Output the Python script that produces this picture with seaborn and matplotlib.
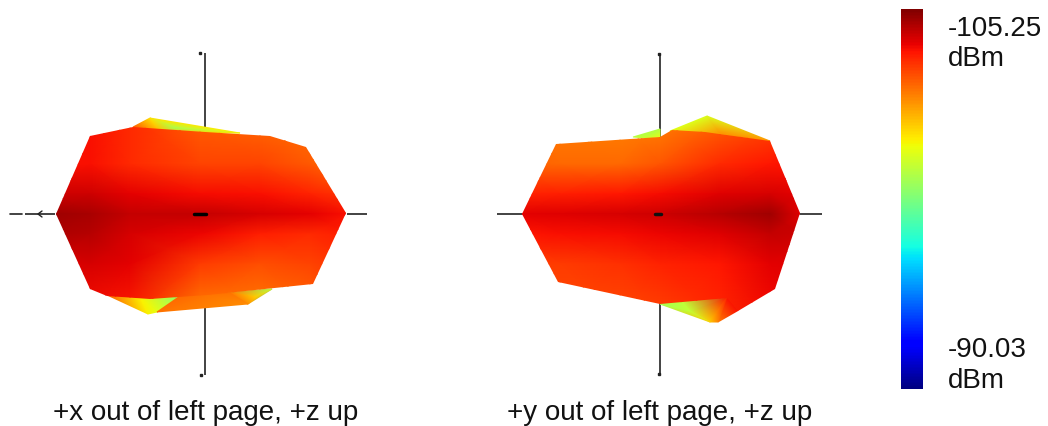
import numpy as np
import matplotlib
matplotlib.use("Agg")
import matplotlib.pyplot as plt
from matplotlib.patches import Polygon
import seaborn as sns

# Escala de color (dBm)
scale_top = -105.25
scale_bottom = -90.03
scale_steps = np.linspace(scale_top, scale_bottom, 256)
caption_left = "+x out of left page, +z up"
caption_right = "+y out of left page, +z up"

# Vista izquierda: valores
left_x = [55, 90, 130, 200, 260, 310, 347]
left_y = [118, 165, 195, 215, 235, 265, 316]
left_vals = [
    [-103.6, -103.6, -103.2, -102.3, -102.1, -102.0, -101.4],
    [-103.6, -103.6, -103.2, -102.8, -102.8, -102.4, -101.9],
    [-104.2, -104.2, -103.9, -103.7, -103.6, -103.3, -103.0],
    [-104.8, -104.7, -104.3, -104.3, -104.1, -103.9, -103.6],
    [-104.6, -104.5, -104.1, -103.8, -103.4, -103.2, -103.4],
    [-104.0, -104.1, -103.9, -102.9, -102.6, -102.8, -103.1],
    [-103.6, -103.6, -103.4, -101.8, -101.8, -102.1, -102.7],
]
left_outline = [(56, 215), (90, 137), (133, 128), (205, 133), (270, 137), (306, 148),
                (346, 214), (313, 285), (207, 296), (150, 300), (107, 297), (90, 290)]

# Vista derecha
right_x = [522, 560, 620, 660, 720, 770, 800]
right_y = [118, 165, 195, 215, 235, 265, 325]
right_vals = [
    [-101.9, -101.8, -101.7, -101.7, -102.2, -102.6, -103.0],
    [-102.3, -102.2, -102.2, -102.5, -103.2, -103.5, -103.6],
    [-103.3, -103.4, -103.5, -103.7, -104.0, -104.1, -103.9],
    [-103.9, -104.0, -104.1, -104.2, -104.5, -104.8, -104.0],
    [-103.5, -103.6, -103.7, -103.8, -104.0, -104.3, -104.2],
    [-102.9, -102.9, -103.1, -103.3, -103.5, -103.9, -104.0],
    [-102.5, -102.6, -102.6, -102.7, -103.2, -103.7, -103.8],
]
right_outline = [(522, 215), (556, 145), (660, 138), (672, 131), (705, 133), (770, 142),
                 (800, 214), (775, 290), (738, 311.5), (727, 299), (660, 305), (558, 283)]

# Lobulos traseros: vertices y valor en cada vertice
left_back_pts = [
    [(133, 128), (150, 119), (175, 129), (240, 134), (160, 134)],
    [(107, 296), (148, 315), (157, 313), (180, 297), (140, 298)],
    [(157, 313), (180, 297), (205, 296), (248, 305), (256, 298), (272, 290), (230, 294)],
]
left_back_vals = [
    [-102.5, -100.2, -98.5, -100.0, -101.0],
    [-102.5, -100.0, -99.6, -97.8, -100.0],
    [-102.0, -102.2, -102.0, -101.6, -100.5, -98.5, -102.0],
]
right_back_pts = [
    [(633, 138), (660, 130), (660, 138), (645, 139)],
    [(670, 132), (707, 117), (770, 142), (720, 134)],
    [(660, 305), (690, 312), (710, 323), (718, 323), (738, 311.5), (727, 298), (680, 300)],
]
right_back_vals = [
    [-98.8, -98.6, -99.5, -99.0],
    [-99.5, -99.4, -101.5, -101.5],
    [-98.3, -99.0, -100.6, -101.8, -103.6, -103.6, -98.8],
]

# Ejes de cada vista
left_axes = [(205, 205, 54, 376), (25, 55, 215, 215), (347, 367, 215, 215)]
right_axes = [(660, 660, 55, 375), (497, 522, 214.5, 214.5), (800, 822, 214.5, 214.5)]

sns.set_theme(style="white")
plt.rcParams['font.family'] = ['Liberation Sans', 'DejaVu Sans']

fig = plt.figure(figsize=(10.48, 4.27), dpi=100)
ax = fig.add_axes([0, 0, 1, 1])
ax.set_xlim(0, 1048)
ax.set_ylim(427, 0)
ax.axis("off")


def draw_back(all_pts, all_vals):
    for pts, vals in zip(all_pts, all_vals):
        xs = [p[0] for p in pts]
        ys = [p[1] for p in pts]
        ax.tripcolor(xs, ys, vals, shading="gouraud", cmap="jet_r",
                     vmin=scale_top, vmax=scale_bottom, zorder=2)


def draw_blob(xs, ys, vals, outline):
    gx, gy = np.meshgrid(xs, ys)
    mesh = ax.pcolormesh(gx, gy, np.array(vals), shading="gouraud", cmap="jet_r",
                         vmin=scale_top, vmax=scale_bottom, zorder=3)
    clip = Polygon(outline, closed=True, transform=ax.transData, fill=False, edgecolor="none")
    ax.add_patch(clip)
    mesh.set_clip_path(clip)


# Lineas de ejes primero, quedan detras del cuerpo
for x0, x1, y0, y1 in left_axes + right_axes:
    ax.plot([x0, x1], [y0, y1], color="#222222", lw=1.2, zorder=1, solid_capstyle="butt")

draw_back(left_back_pts, left_back_vals)
draw_back(right_back_pts, right_back_vals)
draw_blob(left_x, left_y, left_vals, left_outline)
draw_blob(right_x, right_y, right_vals, right_outline)

# Detalles: flecha, centros y puntas de los ejes
ax.plot([10, 22], [215, 215], color="#222222", lw=1.2, zorder=1)
ax.plot([42, 38, 42], [212, 215, 218], color="#222222", lw=1, zorder=4)
ax.plot([194, 206], [215, 215], color="black", lw=2.5, zorder=5)
ax.plot([655, 661], [215, 215], color="#111111", lw=2.5, zorder=5)
ax.plot([200, 201, 659, 659], [54, 376, 55, 375], ls="none", marker="s", ms=1.8, color="#222222", zorder=5)

# Barra de color
cax = fig.add_axes([901 / 1048, 1 - 390 / 427, 22 / 1048, 380 / 427])
sns.heatmap(scale_steps.reshape(-1, 1), cmap="jet_r", vmin=scale_top, vmax=scale_bottom,
            cbar=False, xticklabels=False, yticklabels=False, ax=cax)

ax.text(948, 44, f"{scale_top:.2f}\ndBm", fontsize=20, ha="left", va="center", linespacing=1.22, color="#111111")
ax.text(948, 365.5, f"{scale_bottom:.2f}\ndBm", fontsize=20, ha="left", va="center", linespacing=1.22, color="#111111")
ax.text(205.5, 413, caption_left, fontsize=20, ha="center", va="center", color="#111111")
ax.text(660, 413, caption_right, fontsize=20, ha="center", va="center", color="#111111")

fig.savefig("out.png", dpi=100)
